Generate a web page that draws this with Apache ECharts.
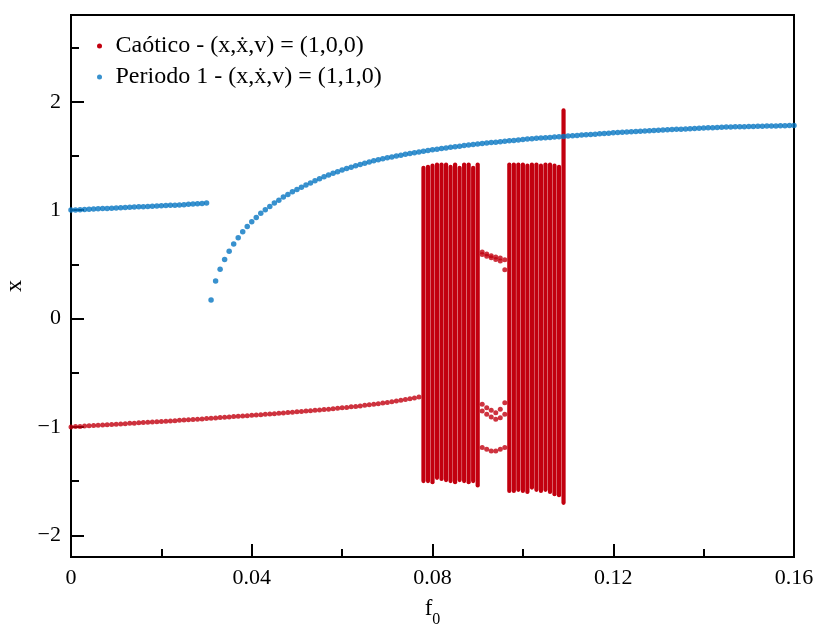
<!DOCTYPE html>
<html>
<head>
<meta charset="utf-8">
<script src="https://cdn.jsdelivr.net/npm/echarts@6/dist/echarts.min.js"></script>
<style>
  html, body { margin: 0; padding: 0; background: #fff; }
  #chart { width: 815px; height: 629px; }
</style>
</head>
<body>
<div id="chart"></div>
<script>
// Bifurcation-style scan of the response x against the forcing amplitude f0.

const F_STEP = 0.001;

const CHAOS_NAME = 'Caótico - (x,\u1E8B,v) = (1,0,0)';
const PERIOD_NAME = 'Periodo 1 - (x,\u1E8B,v) = (1,1,0)';

// Period-1 branch, lower piece (f0 = 0 ... 0.030)
const periodLowStart = 0.000;
const periodLow = [
  1.000, 1.002, 1.004, 1.006, 1.008, 1.010, 1.012, 1.014, 1.016, 1.018,
  1.020, 1.022, 1.024, 1.026, 1.028, 1.030, 1.032, 1.034, 1.036, 1.038,
  1.040, 1.042, 1.044, 1.046, 1.048, 1.050, 1.053, 1.056, 1.059, 1.062,
  1.065
];

// Period-1 branch, upper piece (f0 = 0.031 ... 0.160)
const periodHighStart = 0.031;
const periodHigh = [
  0.170, 0.345, 0.455, 0.545, 0.620, 0.687, 0.746, 0.800, 0.850, 0.893,
  0.933, 0.970, 1.004, 1.034, 1.065, 1.092, 1.120, 1.145, 1.169, 1.191,
  1.212, 1.232, 1.250, 1.270, 1.289, 1.307, 1.324, 1.340, 1.355, 1.369,
  1.383, 1.396, 1.409, 1.421, 1.433, 1.444, 1.455, 1.465, 1.475, 1.483,
  1.491, 1.499, 1.507, 1.515, 1.522, 1.529, 1.536, 1.543, 1.550, 1.556,
  1.562, 1.568, 1.574, 1.580, 1.585, 1.590, 1.595, 1.600, 1.605, 1.610,
  1.615, 1.619, 1.623, 1.627, 1.631, 1.635, 1.639, 1.643, 1.647, 1.651,
  1.655, 1.659, 1.662, 1.665, 1.668, 1.671, 1.674, 1.677, 1.680, 1.683,
  1.686, 1.689, 1.692, 1.695, 1.698, 1.701, 1.704, 1.707, 1.710, 1.713,
  1.715, 1.718, 1.720, 1.723, 1.725, 1.728, 1.730, 1.733, 1.735, 1.737,
  1.739, 1.741, 1.743, 1.745, 1.747, 1.749, 1.751, 1.753, 1.755, 1.757,
  1.759, 1.761, 1.763, 1.765, 1.766, 1.767, 1.768, 1.769, 1.770, 1.771,
  1.772, 1.773, 1.774, 1.775, 1.776, 1.777, 1.778, 1.779, 1.780, 1.781
];

// Chaotic initial condition: regular branch before the chaotic windows (f0 = 0 ... 0.077)
const chaosLineStart = 0.000;
const chaosLine = [
  -1.000, -0.997, -0.995, -0.992, -0.990, -0.987, -0.985, -0.982, -0.980, -0.977,
  -0.975, -0.972, -0.970, -0.967, -0.965, -0.962, -0.960, -0.957, -0.955, -0.952,
  -0.950, -0.947, -0.945, -0.942, -0.939, -0.937, -0.934, -0.931, -0.929, -0.926,
  -0.923, -0.920, -0.917, -0.914, -0.911, -0.908, -0.905, -0.902, -0.899, -0.896,
  -0.893, -0.890, -0.887, -0.884, -0.881, -0.878, -0.875, -0.871, -0.868, -0.865,
  -0.861, -0.858, -0.854, -0.851, -0.847, -0.844, -0.840, -0.836, -0.832, -0.828,
  -0.824, -0.820, -0.815, -0.811, -0.806, -0.801, -0.796, -0.791, -0.786, -0.780,
  -0.774, -0.768, -0.762, -0.755, -0.748, -0.741, -0.733, -0.725
];

// Chaotic windows: each f0 column spans from its lowest to its highest sampled x
const chaosColumnF = [
  0.078, 0.079, 0.080, 0.081, 0.082, 0.083, 0.084, 0.085, 0.086, 0.087, 0.088, 0.089, 0.090,
  0.097, 0.098, 0.099, 0.100, 0.101, 0.102, 0.103, 0.104, 0.105, 0.106, 0.107, 0.108, 0.109
];
const chaosColumnLow = [
  -1.50, -1.50, -1.51, -1.47, -1.48, -1.49, -1.50, -1.51, -1.49, -1.50, -1.51, -1.50, -1.54,
  -1.59, -1.59, -1.58, -1.59, -1.60, -1.56, -1.58, -1.59, -1.58, -1.60, -1.62, -1.63, -1.70
];
const chaosColumnHigh = [
  1.39, 1.40, 1.41, 1.42, 1.42, 1.42, 1.40, 1.42, 1.39, 1.42, 1.42, 1.39, 1.42,
  1.42, 1.42, 1.42, 1.42, 1.41, 1.42, 1.42, 1.41, 1.42, 1.42, 1.41, 1.40, 1.92
];

// Periodic orbits in the window between the two chaotic bands
const bridgeF = [0.091, 0.092, 0.093, 0.094, 0.095, 0.096];
const bridgeUpperA = [0.613, 0.595, 0.580, 0.567, 0.558, 0.543];
const bridgeUpperB = [0.590, 0.575, 0.560, 0.545, 0.530, 0.450];
const bridgeLowerA = [-0.792, -0.823, -0.847, -0.869, -0.838, -0.777];
const bridgeLowerB = [-0.853, -0.884, -0.909, -0.930, -0.915, -0.884];
const bridgeLowerC = [-1.191, -1.206, -1.222, -1.222, -1.206, -1.191];

// Axis ticks
const xMajorTicks = [0, 0.04, 0.08, 0.12, 0.16];
const xMinorTicks = [0.02, 0.06, 0.10, 0.14];
const yMajorTicks = [-2, -1, 0, 1, 2];
const yMinorTicks = [-1.5, -0.5, 0.5, 1.5, 2.5];

const RED = '#c2000f';
const BLUE = '#0676c2';
const FONT = '"Liberation Serif", "DejaVu Serif", serif';
const INK = '#000';

function onGrid(start, values) {
  return values.map((v, i) => [Math.round((start + i * F_STEP) * 1e6) / 1e6, v]);
}
function pairs(fs, values) {
  return fs.map((f, i) => [f, values[i]]);
}
function signed(v) {
  return v < 0 ? '\u2212' + Math.abs(v) : String(v);
}

const periodData = onGrid(periodLowStart, periodLow).concat(onGrid(periodHighStart, periodHigh));
const chaosPoints = onGrid(chaosLineStart, chaosLine)
  .concat(pairs(bridgeF, bridgeUpperA))
  .concat(pairs(bridgeF, bridgeUpperB))
  .concat(pairs(bridgeF, bridgeLowerA))
  .concat(pairs(bridgeF, bridgeLowerB))
  .concat(pairs(bridgeF, bridgeLowerC));
const chaosColumns = chaosColumnF.map((f, i) => [f, chaosColumnLow[i], chaosColumnHigh[i]]);

const chart = echarts.init(document.getElementById('chart'), null, { renderer: 'canvas' });

const X_MIN = 0, X_MAX = 0.16, Y_MIN = -2.2, Y_MAX = 2.8;

chart.setOption({
  animation: false,
  backgroundColor: '#fff',
  grid: {
    left: 71, right: 21, top: 15, bottom: 72,
    outerBoundsMode: 'none',
    show: true, borderColor: INK, borderWidth: 2
  },
  legend: {
    data: [
      { name: CHAOS_NAME, itemStyle: { color: RED } },
      { name: PERIOD_NAME, itemStyle: { color: BLUE } }
    ],
    orient: 'vertical',
    left: 92, top: 29,
    icon: 'circle',
    itemWidth: 22, itemHeight: 5, itemGap: 7,
    textStyle: { fontFamily: FONT, fontSize: 24, color: INK, lineHeight: 23 }
  },
  xAxis: [
    {
      type: 'value', min: X_MIN, max: X_MAX, position: 'bottom',
      axisLine: { onZero: false, lineStyle: { color: INK, width: 2 } },
      axisTick: { inside: true, length: 13, customValues: xMajorTicks, lineStyle: { color: INK, width: 2 } },
      axisLabel: {
        customValues: xMajorTicks, formatter: v => String(v),
        fontFamily: FONT, fontSize: 22, color: INK, margin: 10
      },
      splitLine: { show: false },
      name: '{f|f}{s|0}',
      nameLocation: 'middle', nameGap: 33,
      nameTextStyle: {
        rich: {
          f: { fontFamily: FONT, fontSize: 23, color: INK },
          s: { fontFamily: FONT, fontSize: 16, color: INK, padding: [22, 0, 0, 0] }
        }
      }
    },
    {
      type: 'value', min: X_MIN, max: X_MAX, position: 'bottom',
      axisLine: { show: false, onZero: false },
      axisTick: { inside: true, length: 8, customValues: xMinorTicks, lineStyle: { color: INK, width: 2 } },
      axisLabel: { show: false },
      splitLine: { show: false }
    }
  ],
  yAxis: [
    {
      type: 'value', min: Y_MIN, max: Y_MAX, position: 'left',
      axisLine: { onZero: false, lineStyle: { color: INK, width: 2 } },
      axisTick: { inside: true, length: 13, customValues: yMajorTicks, lineStyle: { color: INK, width: 2 } },
      axisLabel: {
        customValues: yMajorTicks, formatter: signed,
        fontFamily: FONT, fontSize: 22, color: INK, margin: 10
      },
      splitLine: { show: false },
      name: 'x', nameLocation: 'middle', nameGap: 40, nameRotate: 90,
      nameTextStyle: { fontFamily: FONT, fontSize: 24, color: INK }
    },
    {
      type: 'value', min: Y_MIN, max: Y_MAX, position: 'left',
      axisLine: { show: false, onZero: false },
      axisTick: { inside: true, length: 8, customValues: yMinorTicks, lineStyle: { color: INK, width: 2 } },
      axisLabel: { show: false },
      splitLine: { show: false }
    }
  ],
  series: [
    {
      name: PERIOD_NAME, type: 'scatter', xAxisIndex: 0, yAxisIndex: 0,
      data: periodData, symbol: 'circle', symbolSize: 5.5, clip: false,
      itemStyle: { color: BLUE }
    },
    {
      name: CHAOS_NAME, type: 'custom', xAxisIndex: 0, yAxisIndex: 0,
      data: chaosColumns,
      encode: { x: 0, y: [1, 2] },
      itemStyle: { color: RED },
      renderItem: function (params, api) {
        const top = api.coord([api.value(0), api.value(2)]);
        const bottom = api.coord([api.value(0), api.value(1)]);
        return {
          type: 'line',
          shape: { x1: top[0], y1: top[1], x2: bottom[0], y2: bottom[1] },
          style: { stroke: RED, lineWidth: 4.2, lineCap: 'round' }
        };
      }
    },
    {
      name: CHAOS_NAME, type: 'scatter', xAxisIndex: 0, yAxisIndex: 0,
      data: chaosPoints, symbol: 'circle', symbolSize: 5, clip: false,
      itemStyle: { color: RED }
    }
  ]
});
</script>
</body>
</html>
